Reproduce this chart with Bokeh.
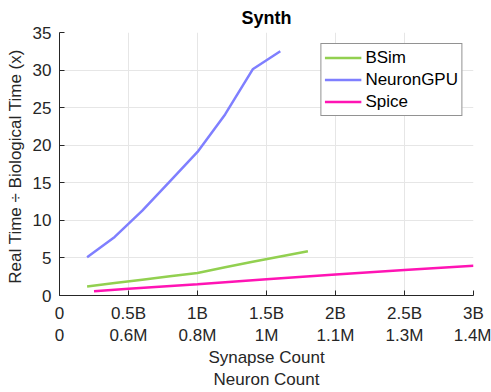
from bokeh.plotting import figure
from bokeh.models import LinearAxis, FixedTicker, Legend, LegendItem, Range1d
from bokeh.embed import file_html
from bokeh.resources import INLINE

# Data (x in billions of synapses)
bsim_x = [0.2, 0.4, 0.6, 0.8, 1.0, 1.2, 1.4, 1.6, 1.8]
bsim_y = [1.2, 1.65, 2.1, 2.55, 3.0, 3.75, 4.5, 5.2, 5.9]
gpu_x = [0.2, 0.4, 0.6, 0.8, 1.0, 1.2, 1.4, 1.6]
gpu_y = [5.1, 7.8, 11.3, 15.2, 19.1, 24.1, 30.1, 32.5]
spice_x = [0.25, 0.5, 1.0, 1.5, 2.0, 2.5, 3.0]
spice_y = [0.55, 0.9, 1.5, 2.15, 2.8, 3.4, 3.95]

x_ticks = [0, 0.5, 1.0, 1.5, 2.0, 2.5, 3.0]
syn_labels = ["0", "0.5B", "1B", "1.5B", "2B", "2.5B", "3B"]
neu_labels = ["0", "0.6M", "0.8M", "1M", "1.1M", "1.3M", "1.4M"]
y_ticks = [0, 5, 10, 15, 20, 25, 30, 35]

FONT = "Liberation Sans"
TXT = "#262626"
FS = "17px"

p = figure(width=491, height=392, output_backend="svg", toolbar_location=None,
           x_range=Range1d(0, 3), y_range=Range1d(0, 35),
           min_border_left=59, min_border_right=18, min_border_top=31, min_border_bottom=96,
           x_axis_location=None)
p.title.text = "Synth"
p.title.align = "center"
p.title.text_font = FONT
p.title.text_font_size = "18px"
p.title.text_font_style = "bold"
p.title.text_color = "black"
p.title.standoff = 10
p.outline_line_color = None

ax1 = LinearAxis(ticker=FixedTicker(ticks=x_ticks),
                 major_label_overrides={t: l for t, l in zip(x_ticks, syn_labels)})
ax2 = LinearAxis(ticker=FixedTicker(ticks=x_ticks),
                 major_label_overrides={t: l for t, l in zip(x_ticks, neu_labels)},
                 axis_label="Synapse Count\nNeuron Count")
for ax in (ax1, ax2):
    ax.major_label_text_font = FONT
    ax.major_label_text_font_size = FS
    ax.major_label_text_color = TXT
    ax.axis_label_text_font = FONT
    ax.axis_label_text_font_size = FS
    ax.axis_label_text_font_style = "normal"
    ax.axis_label_text_color = TXT
    ax.minor_tick_line_color = None
ax1.axis_line_color = TXT
ax1.major_tick_line_color = TXT
ax1.major_tick_in = 5
ax1.major_tick_out = 0
ax1.major_label_standoff = 8
ax2.axis_line_color = None
ax2.major_tick_line_color = None
ax2.major_tick_in = 0
ax2.major_tick_out = 0
ax2.major_label_standoff = 0
ax2.axis_label_standoff = 0
p.add_layout(ax1, "below")
p.add_layout(ax2, "below")

ya = p.yaxis[0]
ya.ticker = FixedTicker(ticks=y_ticks)
ya.axis_label = "Real Time  \u00f7 Biological Time (x)"
ya.axis_label_text_font = FONT
ya.axis_label_text_font_size = FS
ya.axis_label_text_font_style = "normal"
ya.axis_label_text_color = TXT
ya.major_label_text_font = FONT
ya.major_label_text_font_size = FS
ya.major_label_text_color = TXT
ya.axis_line_color = TXT
ya.major_tick_line_color = TXT
ya.major_tick_in = 5
ya.major_tick_out = 0
ya.minor_tick_line_color = None
ya.major_label_standoff = 8
ya.axis_label_standoff = 5

p.xgrid.ticker = FixedTicker(ticks=x_ticks)
p.xgrid.grid_line_color = "#e6e6e6"
p.ygrid.grid_line_color = "#e6e6e6"
p.xgrid.grid_line_width = 1
p.ygrid.grid_line_width = 1

r1 = p.line(bsim_x, bsim_y, line_color="#92d050", line_width=2.5)
r2 = p.line(gpu_x, gpu_y, line_color="#7f7fff", line_width=2.5)
r3 = p.line(spice_x, spice_y, line_color="#ff14b4", line_width=2.5)

legend = Legend(items=[LegendItem(label="BSim", renderers=[r1]),
                       LegendItem(label="NeuronGPU", renderers=[r2]),
                       LegendItem(label="Spice", renderers=[r3])],
                location="top_right")
legend.label_text_font = FONT
legend.label_text_font_size = FS
legend.label_text_color = "black"
legend.border_line_color = TXT
legend.border_line_width = 1
legend.background_fill_alpha = 1
legend.glyph_width = 37
legend.glyph_height = 21
legend.label_height = 21
legend.spacing = 1
legend.padding = 3
legend.margin = 11
legend.label_standoff = 4
p.add_layout(legend)

open("out.html", "w").write(file_html(p, INLINE))
